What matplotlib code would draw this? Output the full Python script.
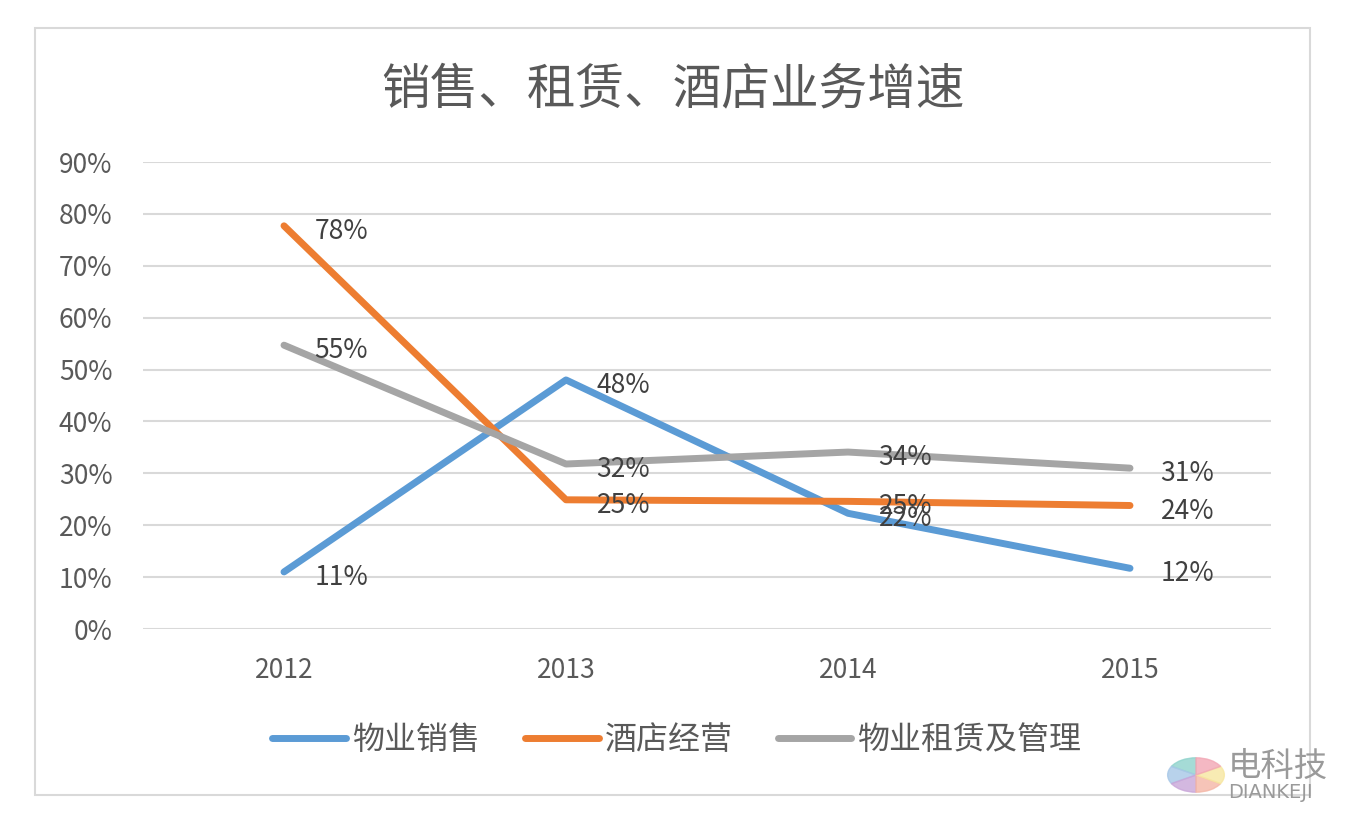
import matplotlib
matplotlib.use('Agg')
import matplotlib.pyplot as plt
from matplotlib.patches import Rectangle, Wedge

plt.rcParams['font.family'] = ['Noto Sans CJK SC', 'DejaVu Sans']

# data
years = ['2012', '2013', '2014', '2015']
sales = [0.11, 0.48, 0.223, 0.117]       # 物业销售
hotel = [0.777, 0.249, 0.246, 0.238]     # 酒店经营
rental = [0.547, 0.318, 0.341, 0.31]     # 物业租赁及管理
series_names = ['物业销售', '酒店经营', '物业租赁及管理']
y_ticks = [0, 0.1, 0.2, 0.3, 0.4, 0.5, 0.6, 0.7, 0.8, 0.9]

colors = ['#5B9BD5', '#ED7D31', '#A5A5A5']
text_gray = '#595959'

fig = plt.figure(figsize=(13.5, 8.19), dpi=100)
ax = fig.add_axes([143 / 1350, 1 - 629 / 819, (1271 - 143) / 1350, (629 - 162) / 819])

# outer chart border
fig.patches.append(Rectangle((35 / 1350, 1 - 795 / 819), (1310 - 35) / 1350, (795 - 28) / 819,
                             transform=fig.transFigure, fill=False,
                             edgecolor='#D9D9D9', linewidth=1.5))

x = list(range(len(years)))
for vals, name, c in zip([sales, hotel, rental], series_names, colors):
    ax.plot(x, vals, color=c, linewidth=5, solid_capstyle='round',
            solid_joinstyle='round', label=name)
    for xi, v in zip(x, vals):
        ax.annotate(f'{v * 100:.0f}%', (xi, v), xytext=(22, -4),
                    textcoords='offset points', ha='left', va='center',
                    fontsize=19, color='#404040')

ax.set_xlim(-0.5, len(years) - 0.5)
ax.set_ylim(0, 0.9)
ax.set_yticks(y_ticks)
ax.set_yticklabels([f'{t * 100:.0f}%' for t in y_ticks])
ax.set_xticks(x)
ax.set_xticklabels(years)
ax.grid(axis='y', color='#D9D9D9', linewidth=1.5)
ax.set_axisbelow(True)
for s in ax.spines.values():
    s.set_visible(False)
ax.tick_params(axis='both', length=0, labelsize=19, labelcolor=text_gray)
ax.tick_params(axis='y', pad=22)
ax.tick_params(axis='x', pad=20)

fig.text(673 / 1350, 1 - 90 / 819, '销售、租赁、酒店业务增速', ha='center', va='center',
         fontsize=35, color=text_gray)

fig.legend(loc='center', bbox_to_anchor=(677 / 1350, 1 - 740 / 819), ncol=3,
           frameon=False, fontsize=23, handlelength=2.3, columnspacing=1.4,
           labelcolor=text_gray, handletextpad=0.2)

# watermark
for th1, th2, c in [(90, 150, '#8FD3CC'), (150, 210, '#A7C7E7'), (210, 270, '#C9A6D9'),
                    (270, 330, '#F4B6A6'), (330, 30, '#F7E7A0'), (30, 90, '#F2A7B5')]:
    fig.patches.append(Wedge((1196 / 1350, 1 - 775 / 819), 0.021, th1, th2,
                             transform=fig.transFigure, color=c, alpha=0.8))
fig.text(1228 / 1350, 1 - 766 / 819, '电科技', fontsize=24, color='#9A9A9A',
         ha='left', va='center')
fig.text(1228 / 1350, 1 - 792 / 819, 'DIANKEJI', fontsize=14, color='#9A9A9A',
         ha='left', va='center', family='DejaVu Sans')

fig.savefig('out.png', dpi=100)
